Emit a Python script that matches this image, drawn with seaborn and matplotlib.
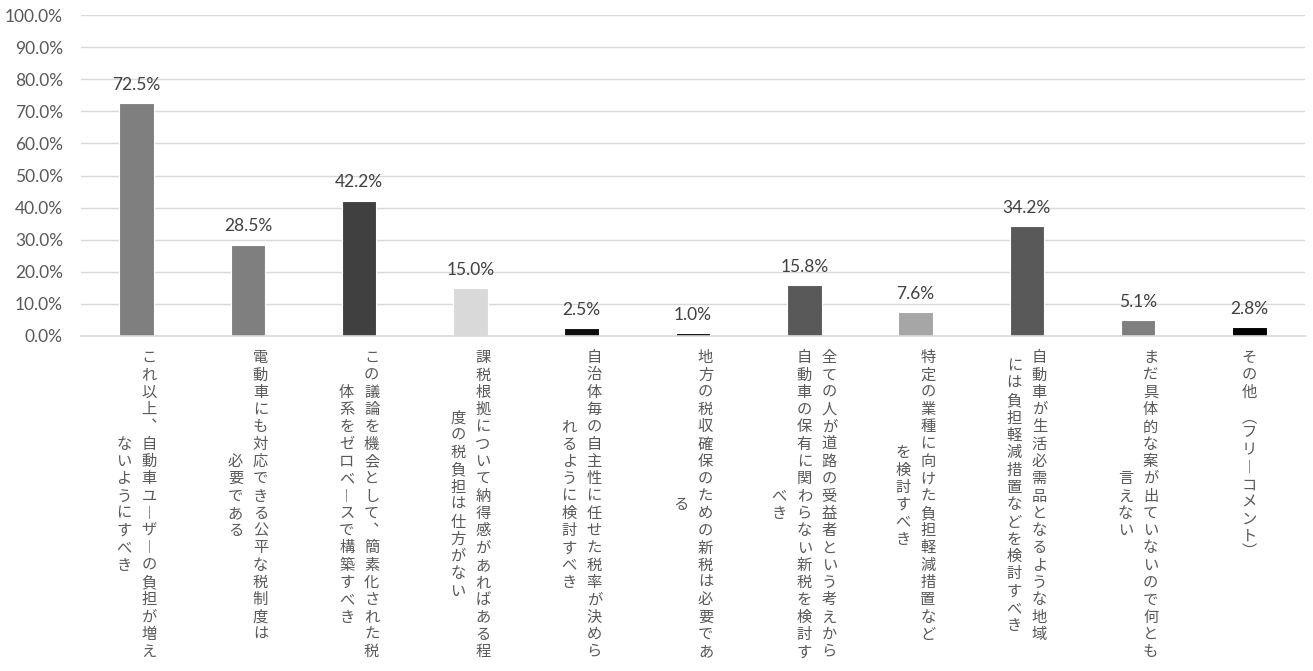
import matplotlib
matplotlib.use("Agg")
import matplotlib.pyplot as plt
import matplotlib.transforms as mtransforms
import seaborn as sns
import pandas as pd

# Answer options (column breaks of the vertical labels marked with "\n")
categories = [
    "これ以上、自動車ユーザーの負担が増え\nないようにすべき",
    "電動車にも対応できる公平な税制度は\n必要である",
    "この議論を機会として、簡素化された税\n体系をゼロベースで構築すべき",
    "課税根拠について納得感があればある程\n度の税負担は仕方がない",
    "自治体毎の自主性に任せた税率が決めら\nれるように検討すべき",
    "地方の税収確保のための新税は必要であ\nる",
    "全ての人が道路の受益者という考えから\n自動車の保有に関わらない新税を検討す\nべき",
    "特定の業種に向けた負担軽減措置など\nを検討すべき",
    "自動車が生活必需品となるような地域\nには負担軽減措置などを検討すべき",
    "まだ具体的な案が出ていないので何とも\n言えない",
    "その他 （フリーコメント）",
]
shares = [72.5, 28.5, 42.2, 15.0, 2.5, 1.0, 15.8, 7.6, 34.2, 5.1, 2.8]
bar_colors = ["#7f7f7f", "#7f7f7f", "#404040", "#d9d9d9", "#0d0d0d", "#0d0d0d",
              "#595959", "#a6a6a6", "#595959", "#7f7f7f", "#000000"]
y_ticks = [0, 10, 20, 30, 40, 50, 60, 70, 80, 90, 100]

sns.set_theme(style="white")
plt.rcParams["font.family"] = ["Lato", "Noto Sans CJK JP", "DejaVu Sans"]

DPI = 100
fig = plt.figure(figsize=(13.13, 6.71), dpi=DPI)
ax = fig.add_axes([81 / 1313, 1 - 336 / 671, (1305 - 81) / 1313, (336 - 15) / 671])

df = pd.DataFrame({"cat": categories, "share": shares})
sns.barplot(data=df, x="cat", y="share", hue="cat",
            palette=dict(zip(categories, bar_colors)), legend=False,
            width=0.31, edgecolor="white", linewidth=0.8, ax=ax)

ax.set_ylim(0, 100)
ax.set_xlim(-0.5, len(categories) - 0.5)
ax.set_yticks(y_ticks)
ax.set_yticklabels([f"{t:.1f}%" for t in y_ticks], fontsize=12.5, color="#595959")
ax.tick_params(axis="y", length=0, pad=13)
ax.set_xticks(range(len(categories)))
ax.set_xticklabels([""] * len(categories))
ax.tick_params(axis="x", length=0)
ax.set_xlabel("")
ax.set_ylabel("")
ax.yaxis.grid(True, color="#d9d9d9", linewidth=1.0)
ax.set_axisbelow(True)
for side in ["top", "right", "left"]:
    ax.spines[side].set_visible(False)
ax.spines["bottom"].set_color("#d9d9d9")
ax.spines["bottom"].set_linewidth(1.2)

# Value labels above the bars
for i, v in enumerate(shares):
    ax.annotate(f"{v:.1f}%", xy=(i, v), xytext=(0, 13), textcoords="offset points",
                ha="center", va="center", fontsize=12.5, color="#404040")

# Vertical (top-to-bottom, right-to-left) category labels
vertical_forms = {"ー": "︱", "、": "︑", "（": "︵", "）": "︶"}
cell_size = {" ": 0.6, "︵": 0.75, "︶": 0.75}
pitch = 17.3      # px per character cell
col_gap = 25.0    # px between columns
top_pad = 13.0    # px below the axis line
cjk_font = "Noto Sans CJK JP"

base = mtransforms.blended_transform_factory(ax.transData, ax.transAxes)
for i, label in enumerate(categories):
    cols = [[vertical_forms.get(c, c) for c in col] for col in label.split("\n")]
    lengths = [sum(cell_size.get(c, 1.0) for c in col) for col in cols]
    block = max(lengths) * pitch
    ncol = len(cols)
    for k, col in enumerate(cols):
        dx = ((ncol - 1) / 2 - k) * col_gap
        col_h = lengths[k] * pitch
        y0 = -top_pad - (block - col_h) / 2
        pos = 0.0
        for ch in col:
            cell = cell_size.get(ch, 1.0)
            yc = y0 - (pos + cell / 2) * pitch
            pos += cell
            if ch == " ":
                continue
            tr = base + mtransforms.ScaledTranslation(dx / DPI, yc / DPI, fig.dpi_scale_trans)
            fig.text(i, 0, ch, transform=tr, ha="center", va="center",
                     fontsize=11, color="#595959", family=[cjk_font, "DejaVu Sans"])

fig.savefig("out.png", dpi=DPI)
